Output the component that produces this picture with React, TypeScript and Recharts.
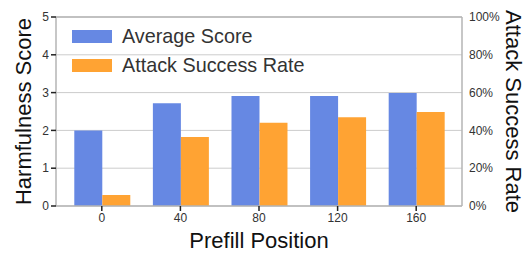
import React from "react";
import {
  Bar,
  BarChart,
  CartesianGrid,
  Label,
  ReferenceLine,
  XAxis,
  YAxis,
} from "recharts";

const positions = ["0", "40", "80", "120", "160"];
const avgScore = [2.0, 2.72, 2.91, 2.91, 2.99];
const attackRate = [5.8, 36.5, 44, 47, 49.7];
const scoreTicks = [0, 1, 2, 3, 4, 5];
const rateTicks = [0, 20, 40, 60, 80, 100];

const BLUE = "#6688e3";
const ORANGE = "#ffa333";
const AXIS = "#b5b5b5";
const FONT = "'Liberation Sans', Arial, sans-serif";

const series = [
  { key: "score", name: "Average Score", color: BLUE },
  { key: "rate", name: "Attack Success Rate", color: ORANGE },
];

const data = positions.map((p, i) => ({
  position: p,
  score: avgScore[i],
  rate: attackRate[i],
}));

const tickStyle = { fill: "#333", fontSize: 12, fontFamily: FONT };
const titleStyle = { fill: "#111", fontSize: 22, fontFamily: FONT };

export default function App() {
  return (
    <div
      style={{ position: "relative", width: 527, height: 255, fontFamily: FONT }}
    >
      <style>{"body{margin:0}"}</style>
      <BarChart
        width={527}
        height={255}
        data={data}
        margin={{ top: 17, right: 0, bottom: 0, left: 0 }}
        barCategoryGap="15%"
        barGap={0}
      >
        <CartesianGrid vertical={false} stroke="#cccccc" yAxisId="left" />
        <XAxis
          dataKey="position"
          height={49}
          padding={{ left: 6.5, right: 6.5 }}
          stroke={AXIS}
          strokeWidth={1.5}
          tick={tickStyle}
          tickSize={5}
          tickLine={{ stroke: "#222" }}
        >
          <Label
            value="Prefill Position"
            position="insideBottom"
            offset={7}
            style={titleStyle}
          />
        </XAxis>
        <YAxis
          yAxisId="left"
          width={56}
          domain={[0, 5]}
          ticks={scoreTicks}
          stroke={AXIS}
          strokeWidth={1.5}
          tick={tickStyle}
          tickSize={5}
          tickLine={{ stroke: "#222" }}
        >
          <Label
            value="Harmfulness Score"
            angle={-90}
            position="insideLeft"
            offset={23}
            style={{ ...titleStyle, textAnchor: "middle" }}
          />
        </YAxis>
        <YAxis
          yAxisId="right"
          orientation="right"
          width={65}
          domain={[0, 100]}
          ticks={rateTicks}
          tickFormatter={(v) => `${v}%`}
          stroke={AXIS}
          strokeWidth={1.5}
          tick={tickStyle}
          tickSize={5}
          tickLine={false}
        >
          <Label
            value="Attack Success Rate"
            angle={90}
            position="insideRight"
            offset={13}
            style={{ ...titleStyle, textAnchor: "middle" }}
          />
        </YAxis>
        <ReferenceLine yAxisId="left" y={5} stroke={AXIS} strokeWidth={1.5} />
        <Bar
          yAxisId="left"
          dataKey="score"
          name="Average Score"
          fill={BLUE}
          isAnimationActive={false}
        />
        <Bar
          yAxisId="right"
          dataKey="rate"
          name="Attack Success Rate"
          fill={ORANGE}
          isAnimationActive={false}
        />
      </BarChart>
      {/* legend drawn inside the plot, top-left */}
      <div style={{ position: "absolute", left: 72, top: 30 }}>
        {series.map((s) => (
          <div
            key={s.key}
            style={{
              display: "flex",
              alignItems: "center",
              height: 13,
              marginBottom: 16,
            }}
          >
            <div style={{ width: 40, height: 13, background: s.color }} />
            <span
              style={{
                marginLeft: 10,
                fontSize: 19.8,
                lineHeight: 1,
                color: "#333",
                whiteSpace: "nowrap",
              }}
            >
              {s.name}
            </span>
          </div>
        ))}
      </div>
    </div>
  );
}
